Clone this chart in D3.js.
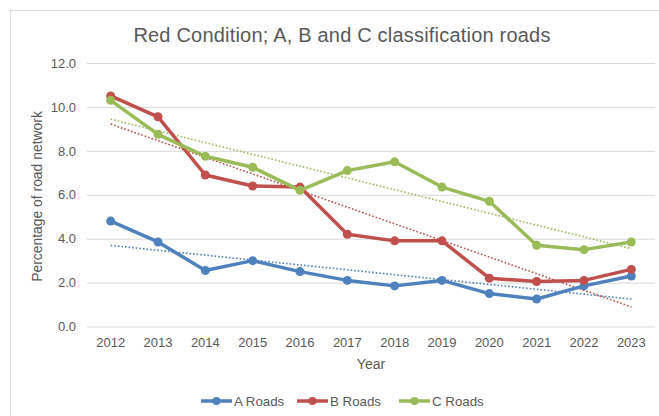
<!DOCTYPE html>
<html>
<head>
<meta charset="utf-8">
<script src="https://cdn.jsdelivr.net/npm/d3@7"></script>
<style>
  html, body { margin: 0; padding: 0; background: #fff; }
  svg { display: block; font-family: "Liberation Sans", Arial, sans-serif; }
</style>
</head>
<body>
<svg id="chart" width="659" height="416"></svg>
<script>
// Share of the network in red condition, by road class
const years = ["2012","2013","2014","2015","2016","2017","2018","2019","2020","2021","2022","2023"];
const aRoads = [4.8, 3.85, 2.55, 3.0, 2.5, 2.1, 1.85, 2.1, 1.5, 1.25, 1.85, 2.3];
const bRoads = [10.5, 9.55, 6.9, 6.4, 6.35, 4.2, 3.9, 3.9, 2.2, 2.05, 2.1, 2.6];
const cRoads = [10.3, 8.75, 7.75, 7.25, 6.2, 7.1, 7.5, 6.35, 5.7, 3.7, 3.5, 3.85];
const yTicks = [0, 2, 4, 6, 8, 10, 12];
const seriesNames = ["A Roads", "B Roads", "C Roads"];
const seriesColors = ["#4F81BD", "#C0504D", "#9BBB59"];

const series = [aRoads, bRoads, cRoads].map((vals, i) => ({
  name: seriesNames[i], color: seriesColors[i],
  points: vals.map((v, j) => ({ year: years[j], value: v }))
}));

const svg = d3.select("#chart");
const textColor = "#595959";
const font = "'Liberation Sans', Arial, sans-serif";

// outer chart frame
svg.append("rect")
  .attr("x", 10.5).attr("y", 10.5)
  .attr("width", 720).attr("height", 500)
  .attr("fill", "none").attr("stroke", "#D9D9D9").attr("stroke-width", 1);

const plot = { left: 87, right: 655, top: 63, bottom: 326.5 };

const x = d3.scaleBand().domain(years).range([plot.left, plot.right]);
const cx = d => x(d) + x.bandwidth() / 2;
const y = d3.scaleLinear().domain([0, 12]).range([plot.bottom, plot.top]);

// horizontal gridlines + y tick labels
const yAxis = d3.axisLeft(y)
  .tickValues(yTicks)
  .tickFormat(d3.format(".1f"))
  .tickSize(-(plot.right - plot.left))
  .tickPadding(11);
const gy = svg.append("g").attr("transform", `translate(${plot.left},0)`).call(yAxis);
gy.select(".domain").remove();
gy.selectAll(".tick line").attr("stroke", "#D9D9D9").attr("stroke-width", 1);
gy.selectAll(".tick text").attr("fill", textColor).style("font-size", "13px")
  .style("font-family", font);

// x axis labels
const xAxis = d3.axisBottom(x).tickSize(0).tickPadding(11);
const gx = svg.append("g").attr("transform", `translate(0,${plot.bottom})`).call(xAxis);
gx.select(".domain").remove();
gx.selectAll(".tick text").attr("fill", textColor).style("font-size", "13px")
  .style("font-family", font);

// title
svg.append("text")
  .attr("x", 342).attr("y", 42)
  .attr("text-anchor", "middle")
  .attr("fill", textColor)
  .style("font-size", "20px")
  .style("letter-spacing", "0.2px")
  .text("Red Condition; A, B and C classification roads");

// axis titles
svg.append("text")
  .attr("x", 371).attr("y", 369)
  .attr("text-anchor", "middle")
  .attr("fill", textColor)
  .style("font-size", "14px")
  .text("Year");

svg.append("text")
  .attr("transform", `translate(42,196.5) rotate(-90)`)
  .attr("text-anchor", "middle")
  .attr("fill", textColor)
  .style("font-size", "13.9px")
  .text("Percentage of road network");

// linear trendlines (least squares) drawn dotted under the series
series.forEach(s => {
  const n = s.points.length;
  const xs = d3.range(n);
  const mx = d3.mean(xs), my = d3.mean(s.points, p => p.value);
  const sxy = d3.sum(xs, i => (i - mx) * (s.points[i].value - my));
  const sxx = d3.sum(xs, i => (i - mx) * (i - mx));
  const slope = sxy / sxx, icpt = my - slope * mx;
  const ends = [0, n - 1].map(i => ({ year: years[i], value: icpt + slope * i }));
  svg.append("path")
    .datum(ends)
    .attr("fill", "none")
    .attr("stroke", s.color)
    .attr("stroke-width", 1.6)
    .attr("stroke-dasharray", "1.6,2")
    .attr("d", d3.line().x(d => cx(d.year)).y(d => y(d.value)));
});

// series lines and markers
const line = d3.line().x(d => cx(d.year)).y(d => y(d.value));
series.forEach(s => {
  svg.append("path")
    .datum(s.points)
    .attr("fill", "none")
    .attr("stroke", s.color)
    .attr("stroke-width", 3.5)
    .attr("stroke-linejoin", "round")
    .attr("d", line);
  svg.append("g").selectAll("circle")
    .data(s.points).join("circle")
    .attr("cx", d => cx(d.year))
    .attr("cy", d => y(d.value))
    .attr("r", 4.5)
    .attr("fill", s.color);
});

// legend
const legendX = [201, 297, 399];
const legend = svg.append("g");
series.forEach((s, i) => {
  const g = legend.append("g").attr("transform", `translate(${legendX[i]},401)`);
  g.append("line").attr("x1", 0).attr("x2", 31).attr("y1", 0).attr("y2", 0)
    .attr("stroke", s.color).attr("stroke-width", 3.5);
  g.append("circle").attr("cx", 15.5).attr("cy", 0).attr("r", 4).attr("fill", s.color);
  g.append("text").attr("x", 33).attr("y", 4.7)
    .attr("fill", textColor).style("font-size", "13.3px")
    .text(s.name);
});
</script>
</body>
</html>
